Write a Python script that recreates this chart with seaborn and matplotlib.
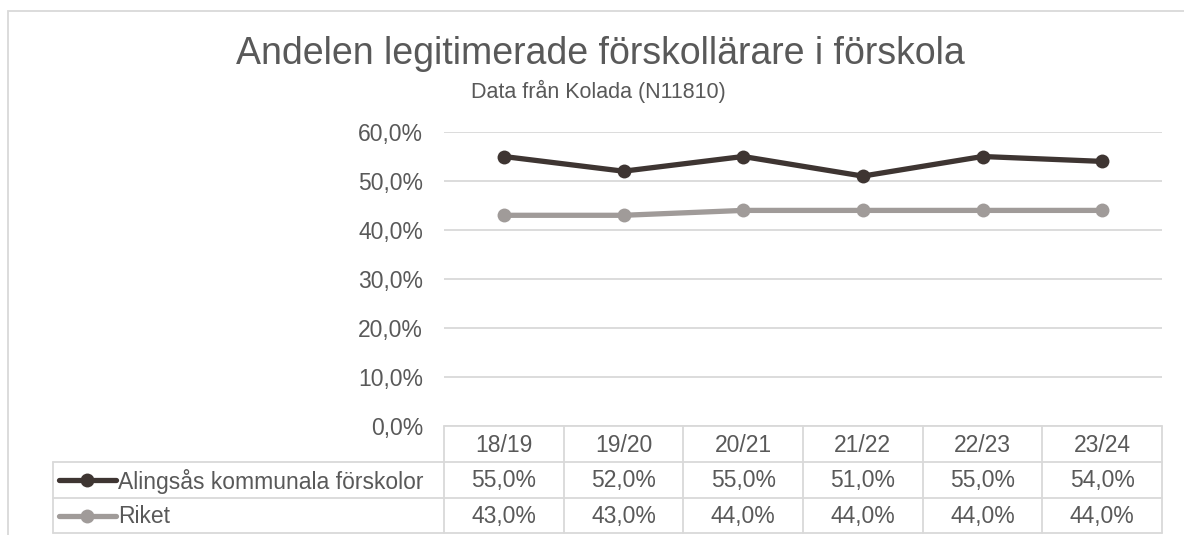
import matplotlib
matplotlib.use("Agg")
import matplotlib.pyplot as plt
import seaborn as sns
import pandas as pd
from matplotlib.lines import Line2D
from matplotlib.patches import Rectangle
from matplotlib.ticker import FuncFormatter

# ---- data ----
years = ["18/19", "19/20", "20/21", "21/22", "22/23", "23/24"]
alingsas = [0.55, 0.52, 0.55, 0.51, 0.55, 0.54]
riket = [0.43, 0.43, 0.44, 0.44, 0.44, 0.44]
series_names = ["Alingsås kommunala förskolor", "Riket"]
title = "Andelen legitimerade förskollärare i förskola"
subtitle = "Data från Kolada (N11810)"

colors = {"Alingsås kommunala förskolor": "#3E3532", "Riket": "#A09B99"}
TXT = "#595959"
GRID = "#D9D9D9"
FS = 16.5

df = pd.DataFrame({
    "year": years * 2,
    "value": alingsas + riket,
    "series": [series_names[0]] * len(years) + [series_names[1]] * len(years),
})

sns.set_theme(style="white")
plt.rcParams["font.family"] = ["Liberation Sans", "DejaVu Sans"]

W, H = 1184, 535
fig = plt.figure(figsize=(W / 100, H / 100), dpi=100)

def fx(px):
    return px / W

def fy(py):
    return 1 - py / H

left, right, top, bottom = 444, 1162, 132, 426
ax = fig.add_axes([fx(left), fy(bottom), fx(right - left), fy(top) - fy(bottom)])

sns.lineplot(data=df, x="year", y="value", hue="series", palette=colors,
             marker="o", markersize=10, linewidth=3.8, markeredgewidth=0,
             legend=False, ax=ax, sort=False)

ax.set_xlim(-0.5, len(years) - 0.5)
ax.set_ylim(0, 0.6)
ax.set_yticks([0, 0.1, 0.2, 0.3, 0.4, 0.5, 0.6])
ax.yaxis.set_major_formatter(FuncFormatter(lambda v, p: f"{v*100:.1f}%".replace(".", ",")))
ax.tick_params(axis="y", labelsize=FS, colors=TXT, length=0, pad=15)
ax.set_xticks([])
ax.set_xlabel("")
ax.set_ylabel("")
ax.grid(axis="y", color=GRID, linewidth=1.3)
ax.set_axisbelow(True)
for s in ax.spines.values():
    s.set_visible(False)

# chart border
fig.patches.append(Rectangle((fx(8), fy(545)), fx(1200), fy(11) - fy(545),
                             transform=fig.transFigure, fill=False,
                             edgecolor=GRID, linewidth=1.3))

# titles
fig.text(fx(600), fy(54), title, ha="center", va="center", fontsize=27, color=TXT)
fig.text(fx(598), fy(91), subtitle, ha="center", va="center", fontsize=15.5, color=TXT)

# data table
col_w = (right - left) / len(years)
row_y = [426, 462, 498, 533]
tbl_left = 53

def hline(x0, x1, y):
    fig.add_artist(Line2D([fx(x0), fx(x1)], [fy(y), fy(y)], color=GRID, lw=1.3,
                          transform=fig.transFigure))

def vline(x, y0, y1):
    fig.add_artist(Line2D([fx(x), fx(x)], [fy(y0), fy(y1)], color=GRID, lw=1.3,
                          transform=fig.transFigure))

hline(left, right, row_y[0])
for y in row_y[1:]:
    hline(tbl_left, right, y)
vline(tbl_left, row_y[1], row_y[3])
for i in range(len(years) + 1):
    vline(left + i * col_w, row_y[0], row_y[3])

for i, yr in enumerate(years):
    cx = left + (i + 0.5) * col_w
    fig.text(fx(cx), fy((row_y[0] + row_y[1]) / 2 + 1), yr, ha="center", va="center",
             fontsize=FS, color=TXT)

for r, (name, vals) in enumerate(zip(series_names, [alingsas, riket])):
    cy = (row_y[r + 1] + row_y[r + 2]) / 2 + 1
    for i, v in enumerate(vals):
        cx = left + (i + 0.5) * col_w
        fig.text(fx(cx), fy(cy), f"{v*100:.1f}%".replace(".", ","), ha="center",
                 va="center", fontsize=FS, color=TXT)
    fig.add_artist(Line2D([fx(59), fx(116)], [fy(cy - 1), fy(cy - 1)], color=colors[name],
                          lw=3.8, transform=fig.transFigure))
    fig.add_artist(Line2D([fx(87)], [fy(cy - 1)], color=colors[name], marker="o",
                          markersize=10, markeredgewidth=0, transform=fig.transFigure))
    fig.text(fx(118), fy(cy), name, ha="left", va="center", fontsize=FS, color=TXT)

fig.savefig("out.png", dpi=100, facecolor="white")
